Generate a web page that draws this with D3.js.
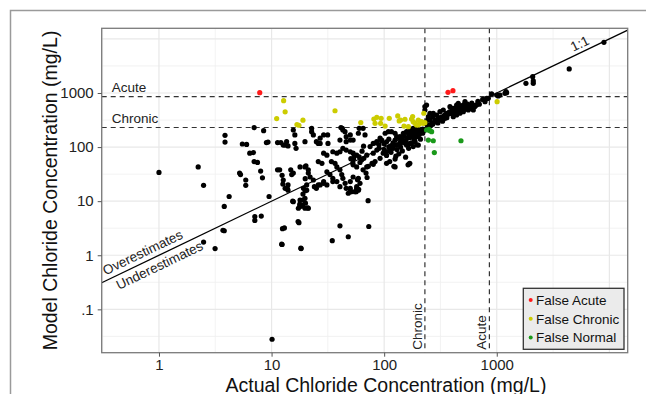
<!DOCTYPE html>
<html>
<head>
<meta charset="utf-8">
<script src="https://cdn.jsdelivr.net/npm/d3@7"></script>
<style>
  body { margin: 0; background: #fff; }
  svg { display: block; font-family: "Liberation Sans", Arial, Helvetica, sans-serif; }
</style>
</head>
<body>
<svg id="chart" width="646" height="394"></svg>
<script>
// [actual, model] in mg/L
const correctPoints = [
  [1,34],[2.23,43],[2.49,19.6],[3.86,165],[3.86,124],[4.2,12.2],[3.8,8],[3.8,2.84],[2.49,1.75],[3.15,1.33],[10.1,0.028],
  [5.2,33],[5.3,31],[5.9,24.6],[5.9,19.6],[5.5,114],[6,112],[6.4,77],[6.9,79],[7,54],[7.5,52],[7,229],[8.5,201],[8,36],[8.3,27],
  [9,121],[9.3,124],[7.1,5.2],[7.1,4.4],[8.1,5.3],[9.5,12.2],[3.7,2.9],
  [11.3,38],[11.8,38],[11.3,121],[12.1,121],[12.7,109],[13.2,109],[13.6,126],[14,105],[12.4,30],[12.6,20.7],[13.8,17],[12.5,3.1],[12.4,1.58],
  [15.6,207],[16.1,168],[16.1,117],[16.5,95],[14.8,38],[15.6,33],[15.1,31],[15.4,10],[17.8,8.8],[17.8,8],[17.2,4.2],[18.3,1.33],
  [17.9,43],[20.2,45],[21.2,33],[12.7,24.6],[13.6,17.3],[14,20],[19.9,26],[19,13.5],[19.9,15.6],[15.6,9.8],[17.9,10.5],[18.9,8.5],
  [17.3,7.4],[19.8,7.4],[13,3.2],[17.5,4],[18.2,1.35],[12.3,1.6],[34.6,1.86],[40.5,3.5],[48,2.2],[73,3.4],[72,10.2],
  [19.8,11.3],[18.6,8.1],[21.2,7.4],[13.2,17.3],[14,16],[24,18.5],[26,20],[29,21.4],[31,20],[35,23],[40.5,18.5],[45,21.4],
  [50,17.3],[51,15],[55,15],[57,17.3],[59,16],[48,14],
  [22.7,222],[22.7,193],[31.5,168],[42.5,222],[44.9,193],[60,222],[65,222],[67.6,168],[59,180],[46,156],[50,135],[40.5,135],
  [31.7,117],[19.8,126],[25,126],[27,117],[35,82],[38,77],[40.5,82],[43,95],[46,88],[50,82],[53,77],[57,71],[60,66],[63,58],
  [66,62],[70,71],[75,102],[80,117],[86,126],[92,146],[95,135],[102,180],[109,193],[116,193],[125,180],[129,156],[138,156],
  [148,180],[158,193],[169,207],[181,222],[194,222],[138,117],[158,109],[169,117],[125,43],[163,47],[105,50],[112,54],[92,62],
  [98,77],[105,82],[112,88],[120,102],[129,109],[86,88],[80,77],[78,50],[83,54],[65,38],[70,43],[59,26.5],[61,21.4],[57,18.5],
  [53,28],[50,23],[46,17.3],[50,15],[43,26.5],[42,31],[38,23],[35,26.5],[33,31],[31,35],[29,23],[27,20],[25,17.3],[23.5,24.6],
  [22,28],[20.5,20],[19.2,17.3],[20.5,16],[19.8,43],[21.2,38],[26,54],[28,50],[29,77],[31,71],[34,54],[36.6,50],[38,43],
  [40.5,38],[19,10.5],[20,9.2],[21,7.5],[53,47],[57,43],[27,146],[29,168],
  [41.3,229],[43,207],[23.5,168],[26,117],[50,168],[53,135],[46,126],
  [50.6,61],[53.5,61],[52.7,51],[54.6,70],[56.4,15],[59.4,16.6],[58,25],[61,52],[63.6,84],[65.6,104],[69,33],[70.5,27.4],
  [72.3,44],[80,48],[122,44],[167,49],[127,68],
  [85,120],[90,110],[95,130],[100,115],[105,125],[110,140],[115,105],[120,120],[125,135],[130,110],[135,150],[140,125],
  [145,140],[150,160],[155,130],[160,145],[165,170],[170,150],[175,185],[180,165],[185,195],[190,175],[195,200],[200,180],
  [210,205],[215,190],[220,215],[90,95],[100,90],[110,100],[120,95],[130,90],[140,100],[150,120],[160,110],[105,70],[115,80],
  [125,60],[135,75],[145,85],[155,65],[165,95],[175,120],[185,140],[195,110],[205,170],[210,140],[220,180],[225,200],
  [208,193],[194,156],[188,126],[201,109],[181,102],[169,50],
  [238,600],[230,485],[247,365],[273,422],[292,392],[313,451],[335,485],[359,422],[384,558],[411,521],[440,600],[455,645],
  [471,521],[505,600],[522,690],[540,558],[559,485],[578,521],[598,600],[619,485],[505,451],[411,365],[440,392],[471,422],
  [324,317],[347,340],[302,340],[282,317],[264,275],[255,317],
  [250,240],[260,250],[270,265],[280,290],[290,300],[300,280],[310,330],[320,360],[330,300],[340,380],[350,400],[360,350],
  [370,410],[380,450],[390,420],[400,470],[420,430],[430,480],[450,500],[460,470],[480,540],[490,500],[500,520],[510,560],
  [520,500],[530,540],[550,620],[560,580],[570,540],[590,560],[610,540],[620,580],[640,560],[660,600],[700,620],[520,620],
  [480,580],[450,560],[430,520],[600,650],[240,260],[235,290],[245,330],[255,420],[230,560],[270,360],[680,700],[750,760],
  [786,742],[841,797],[900,959],[998,918],[1067,918],[1224,1013],[1207,1058],[1183,987],[1031,881],[813,797],[786,690],
  [2085,2000],[2110,1670],[2110,1510],[1816,1510],[4400,2780],[8950,8650]
];
const falseAcute = [[7.85,1014],[369,1028],[408,1105]];
const falseChronic = [
  [12.8,720],[13.2,449],[11.1,337],[16.8,261],[17.5,253],[19,314],[36.6,469],[62,284],[81,330],[86,355],[83,275],[93,275],
  [94,340],[111,340],[102,245],[132,376],[140,317],[153,327],[150,245],[175,330],[181,295],[188,275],[164,238],[201,317],
  [208,275],[215,295],[194,256],[225,422],[222,275],[201,256],[179,367],[136,305],[230,282],[1007,690]
];
const falseNormal = [[238,207],[255,201],[264,193],[250,213],[247,135],[273,131],[279,79],[481,131]];

const thresholdNames = ["Chronic", "Acute"];
const thresholdValues = [230, 860];

const xTickValues = [1, 10, 100, 1000];
const xTickLabels = ["1", "10", "100", "1000"];
const yTickValues = [0.1, 1, 10, 100, 1000];
const yTickLabels = [".1", "1", "10", "100", "1000"];
const xGridMajor = [1, 10, 100, 1000, 10000];
const yGridMajor = [0.1, 1, 10, 100, 1000, 10000];
const xGridMinor = [0.316, 3.16, 31.6, 316, 3162];
const yGridMinor = [0.0316, 0.316, 3.16, 31.6, 316, 3162];

const legendNames = ["False Acute", "False Chronic", "False Normal"];
const legendColors = ["#ff1a1a", "#cccc00", "#1a991a"];

const svg = d3.select("#chart");
const pLeft = 101.7, pRight = 627.7, pTop = 28.3, pBottom = 352.7;

const x = d3.scaleLog().domain([0.31, 14550]).range([pLeft, pRight]);
const y = d3.scaleLog().domain([0.0158, 15700]).range([pBottom, pTop]);

// outer figure frame (top + left)
svg.append("path")
  .attr("d", "M10.5,394V10.5H646")
  .attr("fill", "none").attr("stroke", "#9a9a9a").attr("stroke-width", 1.5);

svg.append("defs").append("clipPath").attr("id", "clip")
  .append("rect").attr("x", pLeft).attr("y", pTop).attr("width", pRight - pLeft).attr("height", pBottom - pTop);

const g = svg.append("g");

// grid
g.selectAll(".gxm").data(xGridMinor).enter().append("line")
  .attr("x1", d => x(d)).attr("x2", d => x(d)).attr("y1", pTop).attr("y2", pBottom)
  .attr("stroke", "#efefef").attr("stroke-width", 0.8);
g.selectAll(".gym").data(yGridMinor).enter().append("line")
  .attr("y1", d => y(d)).attr("y2", d => y(d)).attr("x1", pLeft).attr("x2", pRight)
  .attr("stroke", "#efefef").attr("stroke-width", 0.8);
g.selectAll(".gx").data(xGridMajor).enter().append("line")
  .attr("x1", d => x(d)).attr("x2", d => x(d)).attr("y1", pTop).attr("y2", pBottom)
  .attr("stroke", "#e8e8e8").attr("stroke-width", 1.2);
g.selectAll(".gy").data(yGridMajor).enter().append("line")
  .attr("y1", d => y(d)).attr("y2", d => y(d)).attr("x1", pLeft).attr("x2", pRight)
  .attr("stroke", "#e8e8e8").attr("stroke-width", 1.2);

// threshold dashed lines
const dash = g.append("g").attr("stroke", "#333").attr("stroke-width", 1.2).attr("stroke-dasharray", "5,4");
thresholdValues.forEach(v => {
  dash.append("line").attr("x1", pLeft).attr("x2", pRight).attr("y1", y(v)).attr("y2", y(v));
  dash.append("line").attr("y1", pTop).attr("y2", pBottom).attr("x1", x(v)).attr("x2", x(v));
});

// 1:1 line
const lineDomain = [0.31, 14550];
g.append("line")
  .attr("clip-path", "url(#clip)")
  .attr("x1", x(lineDomain[0])).attr("y1", y(lineDomain[0]))
  .attr("x2", x(lineDomain[1])).attr("y2", y(lineDomain[1]))
  .attr("stroke", "#000").attr("stroke-width", 1.3);

// points
const dots = g.append("g").attr("clip-path", "url(#clip)");
function drawDots(data, color) {
  dots.selectAll(null).data(data).enter().append("circle")
    .attr("cx", d => x(d[0])).attr("cy", d => y(d[1])).attr("r", 2.6).attr("fill", color);
}
drawDots(correctPoints, "#000");
drawDots(falseChronic, legendColors[1]);
drawDots(falseNormal, legendColors[2]);
drawDots(falseAcute, legendColors[0]);

// panel border
g.append("rect").attr("x", pLeft).attr("y", pTop).attr("width", pRight - pLeft).attr("height", pBottom - pTop)
  .attr("fill", "none").attr("stroke", "#7a7a7a").attr("stroke-width", 1.3);

// axes
const xAxis = svg.append("g").attr("transform", `translate(0,${pBottom})`)
  .call(d3.axisBottom(x).tickValues(xTickValues).tickFormat((d, i) => xTickLabels[i]).tickSize(4).tickPadding(3));
const yAxis = svg.append("g").attr("transform", `translate(${pLeft},0)`)
  .call(d3.axisLeft(y).tickValues(yTickValues).tickFormat((d, i) => yTickLabels[i]).tickSize(4).tickPadding(4));
[xAxis, yAxis].forEach(a => {
  a.select(".domain").remove();
  a.selectAll(".tick line").attr("stroke", "#555");
  a.selectAll(".tick text").attr("fill", "#222").style("font-size", "15px")
    .style("font-family", "\"Liberation Sans\", Arial, sans-serif");
});

// axis titles
svg.append("text").attr("x", 386).attr("y", 391.5).attr("text-anchor", "middle")
  .style("font-size", "19.5px").attr("fill", "#111").text("Actual Chloride Concentration (mg/L)");
svg.append("text").attr("transform", `translate(57,${(pTop + pBottom) / 2}) rotate(-90)`).attr("text-anchor", "middle")
  .style("font-size", "19.5px").attr("fill", "#111").text("Model Chloride Concentration (mg/L)");

// threshold labels
thresholdNames.forEach((name, i) => {
  const v = thresholdValues[i];
  svg.append("text").attr("x", pLeft + 10).attr("y", y(v) - 5)
    .style("font-size", "13.5px").attr("fill", "#222").text(name);
  svg.append("text").attr("transform", `translate(${x(v) - 3},${pBottom - 3}) rotate(-90)`)
    .style("font-size", "13.5px").attr("fill", "#222").text(name);
});

// labels along the 1:1 line
const angle = Math.atan2(y(1) - y(10), x(10) - x(1)) * 180 / Math.PI;
function lineLabel(at, text, offset, anchor) {
  svg.append("text")
    .attr("transform", `translate(${x(at)},${y(at)}) rotate(${-angle})`)
    .attr("y", offset).attr("text-anchor", anchor)
    .style("font-size", "13.5px").attr("fill", "#222").text(text);
}
lineLabel(0.35, "Overestimates", -5, "start");
lineLabel(0.39, "Underestimates", 14, "start");
lineLabel(5900, "1:1", -4, "middle");

// legend
const lg = svg.append("g").attr("transform", "translate(523.3,288.3)");
lg.append("rect").attr("width", 100.7).attr("height", 61)
  .attr("fill", "#ebebeb").attr("stroke", "#333").attr("stroke-width", 1.3);
legendNames.forEach((name, i) => {
  const cy = 11.7 + i * 18.8;
  lg.append("circle").attr("cx", 7.4).attr("cy", cy).attr("r", 2).attr("fill", legendColors[i]);
  lg.append("text").attr("x", 12.7).attr("y", cy + 4.8)
    .style("font-size", "13.5px").attr("fill", "#111").text(name);
});
</script>
</body>
</html>
